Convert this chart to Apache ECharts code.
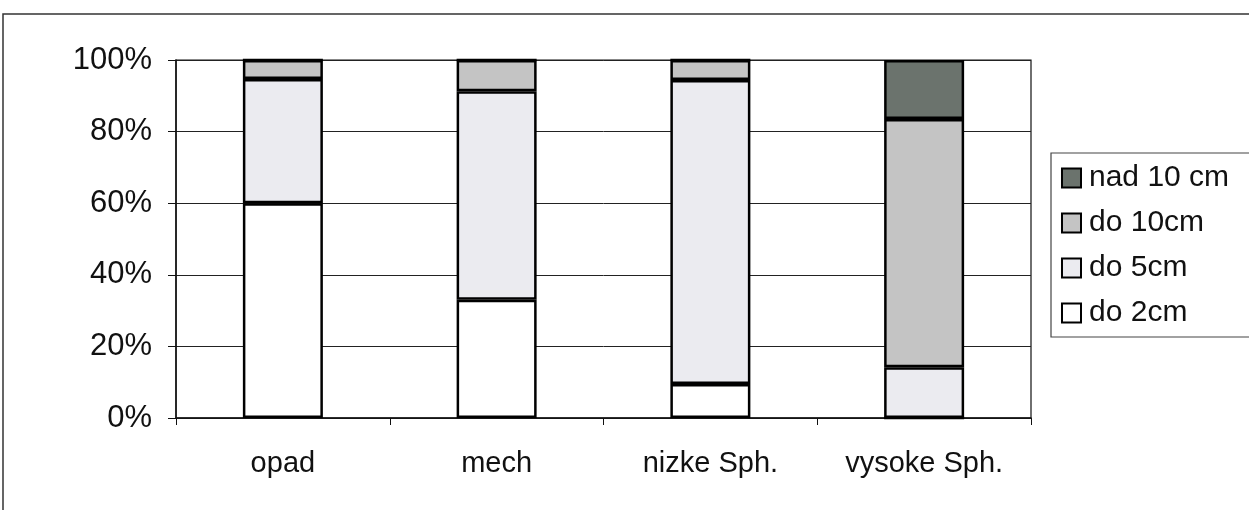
<!DOCTYPE html>
<html>
<head>
<meta charset="utf-8">
<script src="https://cdn.jsdelivr.net/npm/echarts@6/dist/echarts.min.js"></script>
<style>
  html, body { margin: 0; padding: 0; background: #fff; }
  #chart { width: 1249px; height: 510px; }
</style>
</head>
<body>
<div id="chart"></div>
<script>
const categories = ['opad', 'mech', 'nizke Sph.', 'vysoke Sph.'];
const yTicks = [0, 20, 40, 60, 80, 100];
const do2cm = [60, 33, 9.5, 0];
const do5cm = [34.7, 58.3, 84.9, 14.2];
const do10cm = [5.3, 8.7, 5.6, 69.3];
const nad10cm = [0, 0, 0, 16.5];

const seriesNames = ['do 2cm', 'do 5cm', 'do 10cm', 'nad 10 cm'];
const seriesData = [do2cm, do5cm, do10cm, nad10cm];
const seriesColors = ['#ffffff', '#ebebf0', '#c4c4c4', '#6b736d'];

const font = 'Liberation Sans, Arial, sans-serif';
const chart = echarts.init(document.getElementById('chart'), null, { renderer: 'canvas' });

chart.setOption({
  animation: false,
  backgroundColor: '#ffffff',
  textStyle: { fontFamily: font },
  graphic: [{
    type: 'rect',
    shape: { x: 3, y: 14, width: 1300, height: 600 },
    style: { fill: 'none', stroke: '#333', lineWidth: 1.5 },
    silent: true
  }],
  grid: {
    left: 176, right: 218, top: 60, bottom: 92,
    show: true, borderColor: '#111', borderWidth: 1.2, backgroundColor: 'transparent'
  },
  legend: {
    orient: 'vertical',
    left: 1051, top: 153,
    data: seriesNames.slice().reverse(),
    icon: 'rect',
    itemWidth: 19, itemHeight: 19,
    itemGap: 15,
    itemStyle: { borderColor: '#000', borderWidth: 2 },
    padding: [10, 40, 9, 10],
    borderColor: '#444', borderWidth: 1.2,
    textStyle: { fontSize: 30, color: '#111', fontFamily: font, lineHeight: 29, padding: [0, 0, 0, 3] }
  },
  xAxis: {
    type: 'category',
    data: categories,
    axisLine: { show: true, lineStyle: { color: '#111', width: 1.5 } },
    axisTick: { show: true, length: 7, lineStyle: { color: '#111' } },
    axisLabel: { fontSize: 29, color: '#111', margin: 31, fontFamily: font },
    splitLine: { show: false }
  },
  yAxis: {
    type: 'value',
    min: 0, max: 100, interval: 20,
    axisLine: { show: true, lineStyle: { color: '#111', width: 1.5 } },
    axisTick: { show: true, length: 8, lineStyle: { color: '#111' } },
    axisLabel: {
      fontSize: 31, color: '#111', margin: 24, fontFamily: font,
      formatter: function (v) { return yTicks.indexOf(v) >= 0 ? v + '%' : ''; }
    },
    splitLine: { show: true, lineStyle: { color: '#222', width: 1 } }
  },
  series: seriesNames.map(function (name, i) {
    return {
      name: name,
      type: 'bar',
      stack: 'total',
      barWidth: 80,
      data: seriesData[i],
      itemStyle: { color: seriesColors[i], borderColor: '#000', borderWidth: 2.5 }
    };
  })
});
</script>
</body>
</html>
